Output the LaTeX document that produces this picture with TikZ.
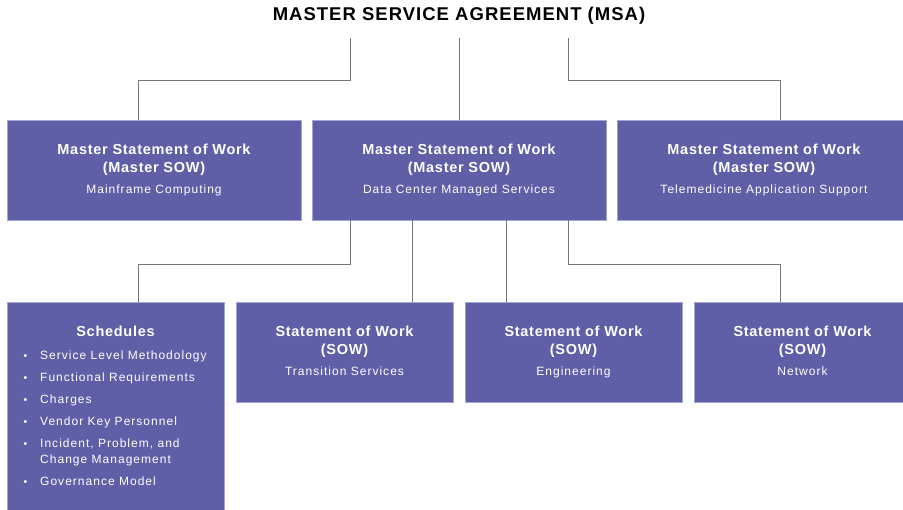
\documentclass[tikz,border=0pt]{standalone}
\usepackage{fontspec}
\setmainfont{Liberation Sans}
\newfontfamily\titlefam[LetterSpace=5.5]{Liberation Sans}
\newfontfamily\headfam[LetterSpace=5]{Liberation Sans}
\newfontfamily\bodyfam[LetterSpace=8.5]{Liberation Sans}
\usepackage{array}

\definecolor{boxfill}{RGB}{94,95,166}
\definecolor{boxedge}{RGB}{165,165,212}
\definecolor{linkgray}{RGB}{118,118,118}

% heading and body lines inside the cards; the phantom keeps every body line
% the same depth so that all cards centre their text alike
\newcommand{\hd}[1]{{\headfam\bfseries\fontsize{14.5}{18}\selectfont #1}}
\newcommand{\bd}[1]{{\bodyfam\fontsize{12}{18}\selectfont #1\vphantom{gy}}}

\tikzset{
  card/.style={draw=boxedge, line width=0.6pt, fill=boxfill, text=white,
    inner sep=0pt, outer sep=0pt, anchor=north west, align=center,
    minimum height=100pt, font=\fontsize{12}{18}\selectfont},
  wide/.style={card, minimum width=294pt},
  narrow/.style={card, minimum width=217pt},
  link/.style={draw=linkgray, line width=0.9pt},
  headline/.style={font=\titlefam\bfseries\fontsize{18.5}{22}\selectfont, inner sep=0pt},
}

\begin{document}
\begin{tikzpicture}[x=1pt, y=-1pt]
  \useasboundingbox (0,0) rectangle (903,510);
  \clip (0,0) rectangle (903,510);

  % agreement heading and the points where its links start
  \node[headline, anchor=base] (msa) at (459,21) {MASTER SERVICE AGREEMENT (MSA)};
  \coordinate (t1) at (350,38);
  \coordinate (t2) at (459,38);
  \coordinate (t3) at (568,38);

  % master statements of work
  \node[wide] (m1) at (7,120)
    {\hd{Master Statement of Work}\\\hd{(Master SOW)}\\[3pt]\bd{Mainframe Computing}};
  \node[wide] (m2) at (312,120)
    {\hd{Master Statement of Work}\\\hd{(Master SOW)}\\[3pt]\bd{Data Center Managed Services}};
  \node[wide] (m3) at (617,120)
    {\hd{Master Statement of Work}\\\hd{(Master SOW)}\\[3pt]\bd{Telemedicine Application Support}};

  % schedules and statements of work
  \node[narrow, minimum height=220pt] (s0) at (7,302) {};
  \node[narrow] (s1) at (236,302)
    {\hd{Statement of Work}\\\hd{(SOW)}\\[3pt]\bd{Transition Services}};
  \node[narrow] (s2) at (465,302)
    {\hd{Statement of Work}\\\hd{(SOW)}\\[3pt]\bd{Engineering}};
  \node[narrow] (s3) at (694,302)
    {\hd{Statement of Work}\\\hd{(SOW)}\\[3pt]\bd{Network}};

  \node[text=white, inner sep=0pt, anchor=base] (schedhead) at (115.5,337)
    {\hd{Schedules}};
  \node[text=white, inner sep=0pt, anchor=base west] (schedlist) at (23.5,359.5)
    {\bodyfam\fontsize{12}{16}\selectfont
     \begin{tabular}[t]{@{}>{\fontsize{10.5}{16}\selectfont}p{16.5pt}@{}l@{}}
       \textbullet & Service Level Methodology\\[6pt]
       \textbullet & Functional Requirements\\[6pt]
       \textbullet & Charges\\[6pt]
       \textbullet & Vendor Key Personnel\\[6pt]
       \textbullet & Incident, Problem, and\\
                   & Change Management\\[6pt]
       \textbullet & Governance Model
     \end{tabular}};

  % links from the agreement
  \draw[link] (t1) -- ++(0,42) -| ([xshift=-16pt]m1.north);
  \draw[link] (t2) -- (m2.north);
  \draw[link] (t3) -- ++(0,42) -| ([xshift=16pt]m3.north);

  % links below the data center master SOW
  \draw[link] ([xshift=-109pt]m2.south) -- ++(0,44) -| ([xshift=22.5pt]s0.north);
  \draw[link] ([xshift=-47pt]m2.south) -- ([xshift=67.5pt]s1.north);
  \draw[link] ([xshift=47pt]m2.south) -- ([xshift=-67.5pt]s2.north);
  \draw[link] ([xshift=109pt]m2.south) -- ++(0,44) -| ([xshift=-22.5pt]s3.north);
\end{tikzpicture}
\end{document}
